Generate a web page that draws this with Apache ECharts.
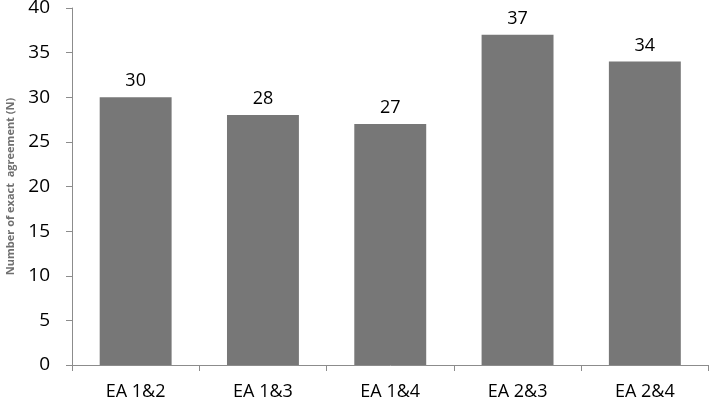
<!DOCTYPE html>
<html><head><meta charset="utf-8">
<script src="https://cdn.jsdelivr.net/npm/echarts@6/dist/echarts.min.js"></script>
<style>html,body{margin:0;padding:0;background:#fff}#c{width:709px;height:401px}</style>
</head><body><div id="c"></div>
<script>
const categories = ["EA 1&2", "EA 1&3", "EA 1&4", "EA 2&3", "EA 2&4"];
const values = [30, 28, 27, 37, 34];
const yTicks = [0, 5, 10, 15, 20, 25, 30, 35, 40];

const chart = echarts.init(document.getElementById('c'));
chart.setOption({
  animation: false,
  grid: { left: 72, right: 0.5, top: 8, bottom: 36, containLabel: false, outerBoundsMode: 'none' },
  xAxis: {
    type: 'category', data: categories,
    axisLine: { lineStyle: { color: '#8c8c8c', width: 1 } },
    axisTick: { show: true, length: 6, alignWithLabel: false, lineStyle: { color: '#8c8c8c' } },
    axisLabel: { color: '#000', fontSize: 18, fontFamily: 'Open Sans', margin: 18 }
  },
  yAxis: {
    type: 'value', min: 0, max: 40, interval: 5,
    name: 'Number of exact  agreement (N)', nameLocation: 'middle', nameGap: 56, nameRotate: 90,
    nameTextStyle: { color: '#707070', fontSize: 11, fontWeight: 'bold', fontFamily: 'Open Sans' },
    axisLine: { show: true, lineStyle: { color: '#8c8c8c', width: 1 } },
    axisTick: { show: true, length: 6, lineStyle: { color: '#8c8c8c' } },
    splitLine: { show: false },
    axisLabel: { color: '#000', fontSize: 19, fontFamily: 'Open Sans', margin: 22,
      formatter: v => yTicks.includes(v) ? String(v) : '' }
  },
  series: [{
    type: 'bar', data: values, barWidth: '56.5%',
    itemStyle: { color: '#777777' },
    label: { show: true, position: 'top', distance: 7, color: '#000', fontSize: 18, fontFamily: 'Open Sans' }
  }]
});
</script></body></html>
